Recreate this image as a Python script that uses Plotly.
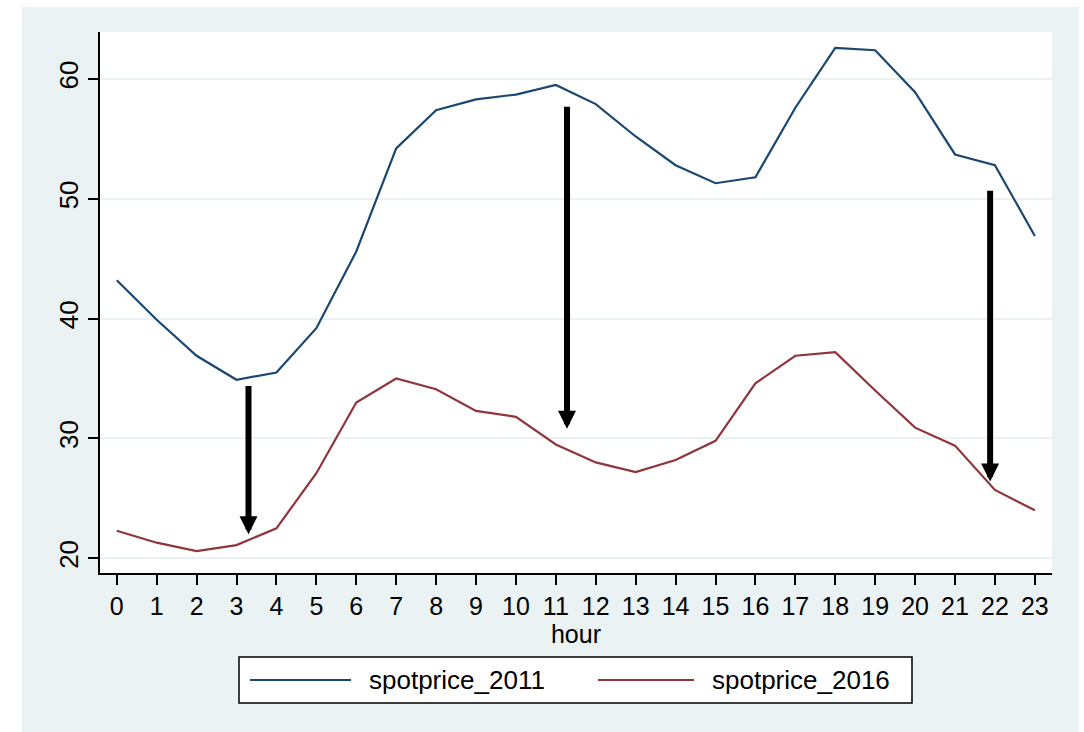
import plotly.graph_objects as go

# Hourly average spot prices
hours = list(range(24))
spotprice_2011 = [43.2, 39.9, 36.9, 34.9, 35.5, 39.2, 45.6, 54.2, 57.4, 58.3, 58.7, 59.5,
                  57.9, 55.2, 52.8, 51.3, 51.8, 57.6, 62.6, 62.4, 58.9, 53.7, 52.8, 46.9]
spotprice_2016 = [22.3, 21.3, 20.6, 21.1, 22.5, 27.1, 33.0, 35.0, 34.1, 32.3, 31.8, 29.5,
                  28.0, 27.2, 28.2, 29.8, 34.6, 36.9, 37.2, 34.0, 30.9, 29.4, 25.7, 24.0]
y_ticks = [20, 30, 40, 50, 60]

# Arrows showing the drop between years: (hour, start value, end value)
arrow_hour = [3.3, 11.28, 21.88]
arrow_from = [34.5, 57.8, 50.8]
arrow_to = [22.0, 30.8, 26.4]

series_names = ["spotprice_2011", "spotprice_2016"]
colors = ["#1a476f", "#90353b"]
bg = "#eaf2f3"
FONT = "Liberation Sans, Arial, sans-serif"

W, H = 1084, 732
L, R, T, B = 100, 32, 32, 159
PW, PH = W - L - R, H - T - B


def px(x):
    return (x - L) / PW


def py(y):
    return (H - B - y) / PH


fig = go.Figure()
for name, vals, col in zip(series_names, [spotprice_2011, spotprice_2016], colors):
    fig.add_trace(go.Scatter(x=hours, y=vals, mode="lines", name=name,
                             line=dict(color=col, width=2.2), showlegend=False))

annotations = []
for xh, y0, y1 in zip(arrow_hour, arrow_from, arrow_to):
    annotations.append(dict(x=xh, y=y1, ax=xh, ay=y0, xref="x", yref="y",
                            axref="x", ayref="y", text="", showarrow=True,
                            arrowhead=2, arrowsize=0.6, arrowwidth=6,
                            arrowcolor="black", standoff=0))

shapes = []
# white border strips around the graph region
shapes.append(dict(type="rect", xref="paper", yref="paper", x0=px(0), x1=px(22),
                   y0=py(H), y1=py(0), fillcolor="white", line_width=0, layer="above"))
shapes.append(dict(type="rect", xref="paper", yref="paper", x0=px(0), x1=px(W),
                   y0=py(7), y1=py(0), fillcolor="white", line_width=0, layer="above"))
shapes.append(dict(type="rect", xref="paper", yref="paper", x0=px(1079), x1=px(W),
                   y0=py(H), y1=py(0), fillcolor="white", line_width=0, layer="above"))

# legend box with line samples
shapes.append(dict(type="rect", xref="paper", yref="paper", x0=px(239), x1=px(912),
                   y0=py(703), y1=py(657), fillcolor="white",
                   line=dict(color="black", width=1.5), layer="above"))
leg_line_x = [(250, 351), (598, 694)]
leg_text_x = [367, 710]
for (a, b), tx, name, col in zip(leg_line_x, leg_text_x, series_names, colors):
    shapes.append(dict(type="line", xref="paper", yref="paper", x0=px(a), x1=px(b),
                       y0=py(680), y1=py(680), line=dict(color=col, width=2.2),
                       layer="above"))
    annotations.append(dict(x=px(tx), y=py(680), xref="paper", yref="paper",
                            text=name, showarrow=False, xanchor="left",
                            yanchor="middle", font=dict(family=FONT, size=26,
                                                        color="black")))

fig.update_layout(
    width=W, height=H,
    margin=dict(l=L, r=R, t=T, b=B),
    paper_bgcolor=bg, plot_bgcolor="white",
    font=dict(family=FONT, size=25, color="black"),
    showlegend=False,
    shapes=shapes, annotations=annotations,
    xaxis=dict(range=[-0.42, 23.43], tickvals=hours, ticks="outside", ticklen=10,
               tickwidth=1.5, tickcolor="black", showline=True, linecolor="black",
               linewidth=1.5, showgrid=False, zeroline=False,
               title=dict(text="hour", standoff=0, font=dict(size=25)),
               tickfont=dict(size=25)),
    yaxis=dict(range=[18.77, 63.92], tickvals=y_ticks, ticks="outside", ticklen=10,
               tickwidth=1.5, tickcolor="black", showline=True, linecolor="black",
               linewidth=1.5, showgrid=True, gridcolor=bg, gridwidth=2,
               zeroline=False, tickangle=-90, tickfont=dict(size=26)),
)

fig.write_html("out.html")
